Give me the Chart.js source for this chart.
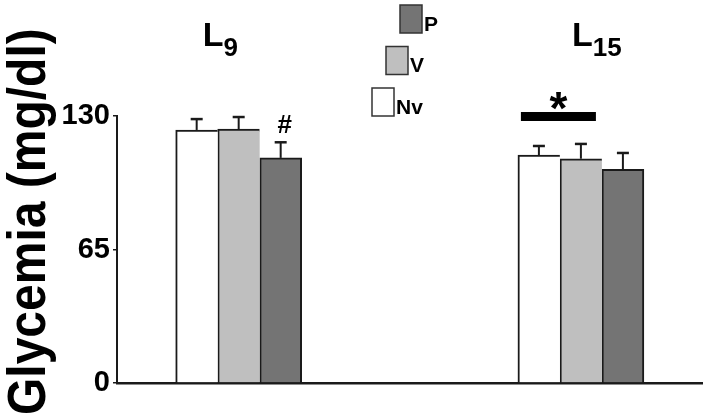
<!DOCTYPE html>
<html>
<head>
<meta charset="utf-8">
<script src="https://cdn.jsdelivr.net/npm/chart.js@4/dist/chart.umd.min.js"></script>
<style>
  html, body { margin: 0; padding: 0; background: #fff; }
  canvas { display: block; }
</style>
</head>
<body>
<canvas id="chart" width="705" height="418"></canvas>
<script>
// groups (L + subscript) and where they sit on the 0-100 x axis
const groups = ["L9", "L15"];
const groupX = [20.8, 79.3];

const seriesNames = ["Nv", "V", "P"];
const nvMean = [123.2, 111.0];
const nvErr = [5.3, 4.4];
const vMean = [123.6, 109.2];
const vErr = [5.9, 7.2];
const pMean = [109.6, 104.0];
const pErr = [7.6, 8.0];

const yTicks = [0, 65, 130];
const yTitle = "Glycemia (mg/dl)";

const FONT = "'Liberation Sans', Arial, sans-serif";
const INK = "#1a1a1a";

function points(vals) {
    return groupX.map((x, i) => ({ x: x, y: vals[i] }));
}

let errs = [nvErr, vErr, pErr];

// error bars, significance marks, group titles, legend, y title
const extras = {
    id: "extras",
    afterDatasetsDraw(chart) {
        let ctx = chart.ctx;
        let yS = chart.scales.y;
        let xS = chart.scales.x;
        ctx.save();

        // error bars
        ctx.strokeStyle = INK;
        chart.data.datasets.forEach((ds, d) => {
            let meta = chart.getDatasetMeta(d);
            meta.data.forEach((bar, j) => {
                let top = yS.getPixelForValue(ds.data[j].y + errs[d][j]);
                ctx.lineWidth = 2;
                ctx.beginPath();
                ctx.moveTo(bar.x, bar.y);
                ctx.lineTo(bar.x, top);
                ctx.stroke();
                ctx.lineWidth = 2.5;
                ctx.beginPath();
                ctx.moveTo(bar.x - 6, top);
                ctx.lineTo(bar.x + 6, top);
                ctx.stroke();
            });
        });

        // "#" over P at L9
        let pBar = chart.getDatasetMeta(2).data[0];
        let pTop = yS.getPixelForValue(pMean[0] + pErr[0]);
        ctx.fillStyle = "#000";
        ctx.font = "bold 26px " + FONT;
        ctx.textAlign = "center";
        ctx.textBaseline = "alphabetic";
        ctx.fillText("#", pBar.x + 4, pTop - 9);

        // "*" with bar over Nv and V at L15
        let nBar = chart.getDatasetMeta(0).data[1];
        let vBar = chart.getDatasetMeta(1).data[1];
        let x1 = nBar.x - 18, x2 = vBar.x + 15;
        let yb = yS.getPixelForValue(130);
        ctx.fillRect(x1, yb - 4, x2 - x1, 9);
        ctx.font = "bold 46px " + FONT;
        ctx.fillText("*", (x1 + x2) / 2, yb + 8);

        // group titles with subscript
        let shift = [-36, -9];
        ctx.textAlign = "left";
        groups.forEach((g, i) => {
            let x = xS.getPixelForValue(groupX[i]) + shift[i];
            ctx.font = "bold 34px " + FONT;
            ctx.fillText(g[0], x, 46);
            let w = ctx.measureText(g[0]).width;
            ctx.font = "bold 26px " + FONT;
            ctx.fillText(g.slice(1), x + w, 56);
        });

        // legend, staggered: P top, V middle, Nv bottom
        ctx.font = "bold 21px " + FONT;
        [2, 1, 0].forEach((d, k) => {
            let ds = chart.data.datasets[d];
            let bx = 400 - 14 * k, by = 5 + 41.5 * k;
            ctx.fillStyle = ds.backgroundColor;
            ctx.fillRect(bx, by, 22, 28);
            ctx.strokeStyle = "#333";
            ctx.lineWidth = 1.5;
            ctx.strokeRect(bx, by, 22, 28);
            ctx.fillStyle = "#000";
            ctx.fillText(ds.label, bx + 24, by + 25.5);
        });

        // y axis title, rotated and a bit tall
        ctx.translate(45, 415);
        ctx.rotate(-Math.PI / 2);
        ctx.scale(1, 1.13);
        ctx.font = "bold 48px " + FONT;
        ctx.textAlign = "left";
        ctx.fillText(yTitle, 0, 0);

        ctx.restore();
    }
};

function barSet(name, vals, color, border) {
    return {
        label: name,
        data: points(vals),
        backgroundColor: color,
        borderColor: INK,
        borderWidth: border,
        borderSkipped: false,
        barThickness: 42
    };
}

new Chart(document.getElementById("chart"), {
    type: "bar",
    data: {
        datasets: [
            barSet(seriesNames[0], nvMean, "#ffffff", { top: 2, left: 2, right: 0, bottom: 0 }),
            barSet(seriesNames[1], vMean, "#bfbfbf", { top: 2, left: 2, right: 0, bottom: 0 }),
            barSet(seriesNames[2], pMean, "#747474", { top: 2, left: 2, right: 2, bottom: 0 })
        ]
    },
    options: {
        responsive: false,
        devicePixelRatio: 1,
        animation: false,
        layout: { padding: { left: 0, top: 116, right: 3, bottom: 0 } },
        plugins: {
            legend: { display: false },
            tooltip: { enabled: false }
        },
        scales: {
            x: {
                type: "linear",
                min: 0,
                max: 100,
                offset: false,
                grid: { display: false },
                border: { display: true, color: INK, width: 2.5 },
                ticks: { display: false },
                afterFit: s => { s.height = 35; }
            },
            y: {
                min: 0,
                max: 130,
                afterBuildTicks: s => { s.ticks = yTicks.map(v => ({ value: v })); },
                grid: { drawOnChartArea: false, drawTicks: true, tickLength: 4, color: INK, lineWidth: 1.5 },
                border: { display: true, color: INK, width: 2 },
                ticks: {
                    color: "#000",
                    padding: 3,
                    font: { family: FONT, size: 29, weight: "bold" }
                },
                afterFit: s => { s.width = 117; }
            }
        }
    },
    plugins: [extras]
});
</script>
</body>
</html>
